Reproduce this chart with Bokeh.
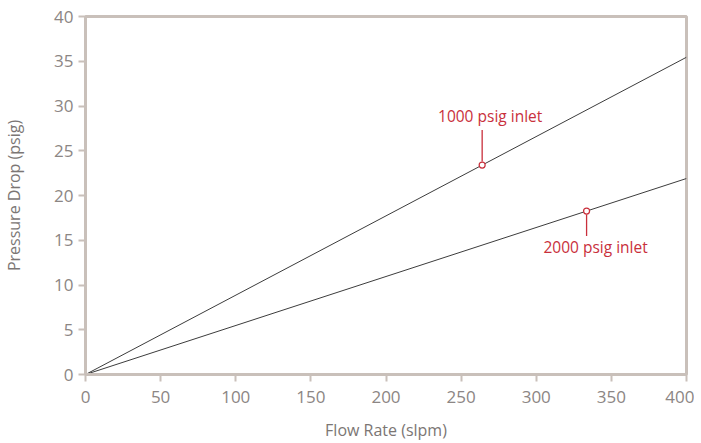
from bokeh.plotting import figure
from bokeh.models import Range1d, FixedTicker, Label
from bokeh.embed import file_html
from bokeh.resources import INLINE

# data
flow = [0, 400]
drop_1000 = [0, 35.45]
drop_2000 = [0, 21.9]
x_ticks = [0, 50, 100, 150, 200, 250, 300, 350, 400]
y_ticks = [0, 5, 10, 15, 20, 25, 30, 35, 40]
marker_x = [264, 333.5]
marker_y = [264 * 35.45 / 400, 333.5 * 21.9 / 400]
marker_text = ["1000 psig inlet", "2000 psig inlet"]

AX = "#c9c0ba"
TICK_TXT = "#8c8684"
TITLE_TXT = "#7b7674"
RED = "#c9303c"
LINE = "#3c3c3c"

p = figure(width=693, height=441, output_backend="svg", toolbar_location=None,
           x_range=Range1d(0, 400), y_range=Range1d(0, 40),
           min_border_left=84, min_border_right=8, min_border_top=16, min_border_bottom=67)
p.frame_width = 601
p.frame_height = 358
p.grid.visible = False
p.background_fill_color = "white"
p.border_fill_color = "white"
p.outline_line_color = AX
p.outline_line_width = 3
p.outline_line_alpha = 1

for ax, ticks in ((p.xaxis[0], x_ticks), (p.yaxis[0], y_ticks)):
    ax.ticker = FixedTicker(ticks=ticks)
    ax.axis_line_color = AX
    ax.axis_line_width = 3
    ax.major_tick_line_color = AX
    ax.major_tick_line_width = 2
    ax.major_tick_out = 7
    ax.major_tick_in = 0
    ax.minor_tick_line_color = None
    ax.major_label_text_font = "Open Sans"
    ax.major_label_text_font_size = "17px"
    ax.major_label_text_color = TICK_TXT
    ax.axis_label_text_font = "Open Sans"
    ax.axis_label_text_font_size = "16px"
    ax.axis_label_text_font_style = "normal"
    ax.axis_label_text_color = TITLE_TXT
p.xaxis.major_label_standoff = 9
p.yaxis.major_label_standoff = 5
p.xaxis.axis_label = "Flow Rate (slpm)"
p.yaxis.axis_label = "Pressure Drop (psig)"
p.xaxis.axis_label_standoff = 13
p.yaxis.axis_label_standoff = 26

p.line(flow, drop_1000, line_color=LINE, line_width=1)
p.line(flow, drop_2000, line_color=LINE, line_width=1)

# leader lines (pixel lengths converted to data units)
ypx = 358 / 40.0
p.segment(x0=[marker_x[0]], y0=[marker_y[0] + 3.5 / ypx], x1=[marker_x[0]], y1=[marker_y[0] + 35 / ypx],
          line_color=RED, line_width=1.3)
p.segment(x0=[marker_x[1]], y0=[marker_y[1] - 3.5 / ypx], x1=[marker_x[1]], y1=[marker_y[1] - 25 / ypx],
          line_color=RED, line_width=1.3)
p.scatter(marker_x, marker_y, size=6, marker="circle", fill_color="white", line_color=RED, line_width=1.2)

p.add_layout(Label(x=marker_x[0], y=marker_y[0], x_offset=8, y_offset=49, text=marker_text[0],
                   text_align="center", text_baseline="middle", text_color=RED,
                   text_font="Open Sans", text_font_size="15.5px"))
p.add_layout(Label(x=marker_x[1], y=marker_y[1], x_offset=9, y_offset=-36, text=marker_text[1],
                   text_align="center", text_baseline="middle", text_color=RED,
                   text_font="Open Sans", text_font_size="15.5px"))

open("out.html", "w").write(file_html(p, INLINE))
